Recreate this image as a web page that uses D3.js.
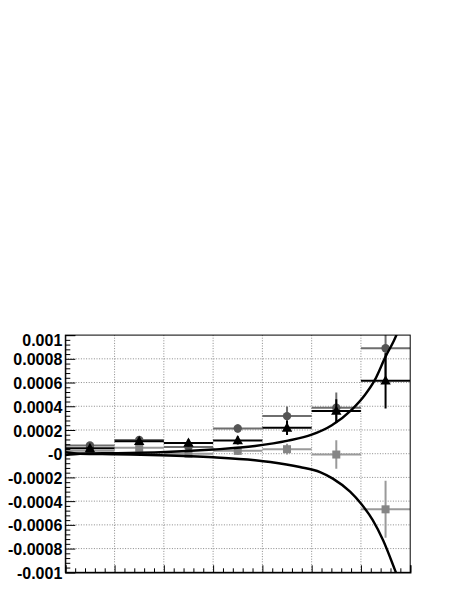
<!DOCTYPE html>
<html><head><meta charset="utf-8">
<script src="https://cdn.jsdelivr.net/npm/d3@7"></script>
<style>body{margin:0;background:#fff}svg{display:block}
.ylab text{font-family:'Liberation Sans',Arial,Helvetica,sans-serif !important;font-weight:bold;font-size:16px !important;fill:#000}</style>
</head><body>
<script>
// ---- data ----
const binEdges = [0, 1, 2, 3, 4, 5, 6, 7];
const circleVals = [0.00007, 0.000115, 0.000057, 0.000213, 0.000317, 0.000387, 0.000889];
const circleErrs = [0.00002, 0.000025, 0.00003, 0.000035, 0.00008, 0.00013, 0.00025];
const triVals = [0.000045, 0.000105, 0.00009, 0.000112, 0.000218, 0.00036, 0.000615];
const triErrs = [0.000015, 0.00002, 0.00003, 0.000035, 0.00006, 0.0001, 0.000233];
const sqVals = [0.000025, 0.00005, 0.0, 0.000024, 0.000038, -0.000007, -0.000469];
const sqErrs = [0.00002, 0.00002, 0.00003, 0.000035, 0.000045, 0.00012, 0.00024];
const upperX = [0, 0.3, 1, 1.93, 3, 3.85, 4.52, 5.0, 5.41, 5.81, 6.08, 6.28, 6.49, 6.72, 6.85];
const upperY = [-0.000012, 0, 0.000005, 0.000012, 0.000035, 0.000065, 0.00011, 0.00016, 0.00024, 0.00037, 0.000495, 0.00062, 0.00081, 0.001, 0.00115];
const lowerX = [0, 0.3, 1, 1.93, 3, 3.85, 4.16, 4.76, 5.17, 5.43, 5.78, 6.0, 6.24, 6.45, 6.69, 6.8];
const lowerY = [0.000012, 0, -0.000005, -0.000013, -0.00003, -0.000055, -0.00007, -0.000112, -0.000155, -0.00021, -0.00032, -0.00042, -0.00056, -0.00073, -0.00098, -0.0011];
const yTickValues = [0.001, 0.0008, 0.0006, 0.0004, 0.0002, 0, -0.0002, -0.0004, -0.0006, -0.0008, -0.001];
const yTickLabels = ["0.001", "0.0008", "0.0006", "0.0004", "0.0002", "-0", "-0.0002", "-0.0004", "-0.0006", "-0.0008", "-0.001"];

// ---- layout ----
const W = 465, H = 601;
const L = 65.3, R = 410.2, T = 335.1, B = 572.3;
const svg = d3.select("body").append("svg").attr("width", W).attr("height", H);
const x = d3.scaleLinear().domain([0, 7]).range([L, R]);
const y = d3.scaleLinear().domain([-0.001, 0.001]).range([B, T]);

svg.append("defs").append("clipPath").attr("id", "clip")
  .append("rect").attr("x", L).attr("y", T).attr("width", R - L).attr("height", B - T);

// grid
const grid = svg.append("g").attr("stroke", "#8a8a8a").attr("stroke-width", 1).attr("stroke-dasharray", "1,1.6");
d3.range(1, 7).forEach(v => grid.append("line").attr("x1", x(v)).attr("x2", x(v)).attr("y1", T).attr("y2", B));
yTickValues.slice(1, -1).forEach(v => grid.append("line").attr("x1", L).attr("x2", R).attr("y1", y(v)).attr("y2", y(v)));

const plot = svg.append("g").attr("clip-path", "url(#clip)");

function drawSeries(vals, errs, color, lineColor, shape) {
  const g = plot.append("g");
  vals.forEach((v, i) => {
    const xc = (binEdges[i] + binEdges[i + 1]) / 2;
    g.append("line").attr("x1", x(binEdges[i])).attr("x2", x(binEdges[i + 1]))
      .attr("y1", y(v)).attr("y2", y(v)).attr("stroke", lineColor).attr("stroke-width", 2);
    g.append("line").attr("x1", x(xc)).attr("x2", x(xc))
      .attr("y1", y(v - errs[i])).attr("y2", y(v + errs[i])).attr("stroke", lineColor).attr("stroke-width", 2);
    const px = x(xc), py = y(v);
    if (shape === "circle") {
      g.append("circle").attr("cx", px).attr("cy", py).attr("r", 4.2).attr("fill", color);
    } else if (shape === "square") {
      g.append("rect").attr("x", px - 4).attr("y", py - 4).attr("width", 8).attr("height", 8).attr("fill", color);
    } else {
      g.append("path").attr("d", `M${px},${py - 5.5}L${px + 5.2},${py + 3.8}L${px - 5.2},${py + 3.8}Z`).attr("fill", color);
    }
  });
}
drawSeries(sqVals, sqErrs, "#858585", "#9a9a9a", "square");
drawSeries(circleVals, circleErrs, "#555555", "#6e6e6e", "circle");
drawSeries(triVals, triErrs, "#000000", "#000000", "triangle");

const line = d3.line().x(d => x(d[0])).y(d => y(d[1])).curve(d3.curveMonotoneX);
plot.append("path").attr("d", line(d3.zip(upperX, upperY))).attr("fill", "none").attr("stroke", "#000").attr("stroke-width", 2.4);
plot.append("path").attr("d", line(d3.zip(lowerX, lowerY))).attr("fill", "none").attr("stroke", "#000").attr("stroke-width", 2.4);

// frame
svg.append("rect").attr("x", L).attr("y", T).attr("width", R - L).attr("height", B - T)
  .attr("fill", "none").attr("stroke", "#000").attr("stroke-width", 1);

// y axis: major + minor
const yMinor = d3.range(-0.001, 0.00100001, 0.00004).filter(v => !yTickValues.some(t => Math.abs(t - v) < 1e-9));
svg.append("g").attr("transform", `translate(${L},0)`)
  .call(d3.axisLeft(y).tickValues(yMinor).tickSize(-5).tickFormat(""))
  .call(g => g.select(".domain").remove());
const yAx = svg.append("g").attr("class", "ylab").attr("transform", `translate(${L},0)`)
  .call(d3.axisLeft(y).tickValues(yTickValues).tickSize(-10).tickPadding(3)
    .tickFormat((d, i) => yTickLabels[i]));
yAx.attr("font-family", null).attr("font-size", null);
yAx.select(".domain").attr("stroke", "#000");
yAx.selectAll("text")
  .attr("dy", (d, i) => i === 0 ? "0.62em" : "0.38em");

// x axis: major + minor, no labels
const xMinor = d3.range(0, 7.0001, 0.2).filter(v => Math.abs(v - Math.round(v)) > 1e-6);
svg.append("g").attr("transform", `translate(0,${B})`)
  .call(d3.axisBottom(x).tickValues(xMinor).tickSize(-4).tickFormat(""))
  .call(g => g.select(".domain").remove());
const xAx = svg.append("g").attr("transform", `translate(0,${B})`)
  .call(d3.axisBottom(x).tickValues(d3.range(0, 8)).tickSize(-7).tickFormat(""));
xAx.select(".domain").attr("stroke", "#000").attr("stroke-width", 1.5);
</script>
</body></html>
